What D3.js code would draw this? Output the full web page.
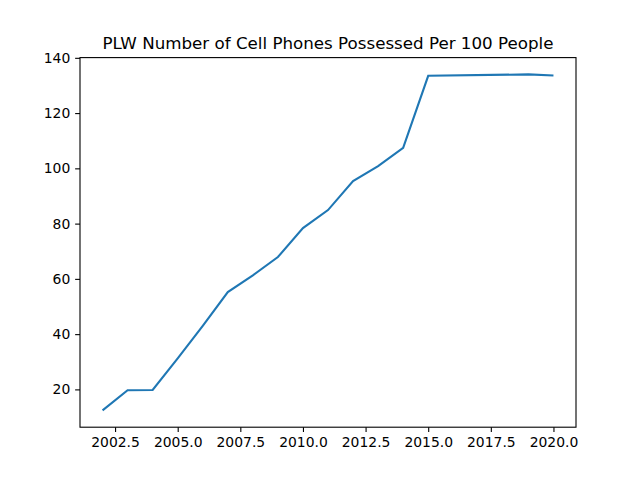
<!DOCTYPE html>
<html><head><meta charset="utf-8">
<script src="https://cdn.jsdelivr.net/npm/d3@7"></script>
<style>body{margin:0;background:#fff}text{font-family:"DejaVu Sans",sans-serif}</style>
</head><body><svg id="c" width="640" height="480"></svg>
<script>
const years = [2002,2003,2004,2005,2006,2007,2008,2009,2010,2011,2012,2013,2014,2015,2019,2020];
const values = [12.4,19.7,19.8,31.2,43.0,55.2,61.3,67.9,78.4,84.9,95.4,100.8,107.4,133.5,134.0,133.6];
const xTicks = [2002.5,2005,2007.5,2010,2012.5,2015,2017.5,2020];
const yTicks = [20,40,60,80,100,120,140];
const title = "PLW Number of Cell Phones Possessed Per 100 People";

const svg = d3.select("#c");
const L=80,R=576,T=57.6,B=427.2;
const xr=[2002,2020], xp=(xr[1]-xr[0])*0.05;
const x=d3.scaleLinear().domain([xr[0]-xp,xr[1]+xp]).range([L,R]);
const ymin=d3.min(values), ymax=d3.max(values), yp=(ymax-ymin)*0.05;
const y=d3.scaleLinear().domain([ymin-yp,ymax+yp]).range([B,T]);

const gx=svg.append("g").attr("transform",`translate(0,${B})`)
 .call(d3.axisBottom(x).tickValues(xTicks).tickFormat(d3.format(".1f")).tickSize(4.86).tickPadding(4.86));
const gy=svg.append("g").attr("transform",`translate(${L},0)`)
 .call(d3.axisLeft(y).tickValues(yTicks).tickFormat(d3.format("d")).tickSize(4.86).tickPadding(4.86));
[gx,gy].forEach(g=>{g.select(".domain").remove();g.selectAll("text").attr("font-size",13.9).attr("fill","#000");g.selectAll("line").attr("stroke","#000").attr("stroke-width",1.1);});

svg.append("path").datum(years.map((d,i)=>[d,values[i]]))
 .attr("d",d3.line().x(d=>x(d[0])).y(d=>y(d[1])))
 .attr("fill","none").attr("stroke","#1f77b4").attr("stroke-width",2.1);

svg.append("rect").attr("x",L).attr("y",T).attr("width",R-L).attr("height",B-T)
 .attr("fill","none").attr("stroke","#000").attr("stroke-width",1.1);
svg.append("text").attr("x",(L+R)/2).attr("y",T-8.5).attr("text-anchor","middle")
 .attr("font-size",16.7).text(title);
</script></body></html>
